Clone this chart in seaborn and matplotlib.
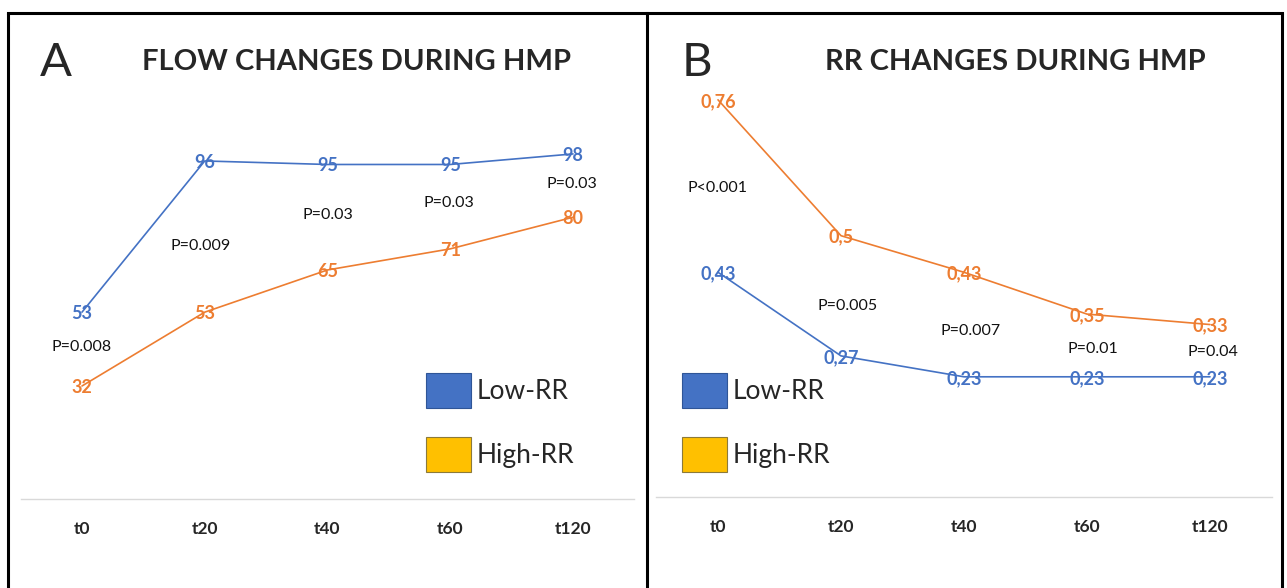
import matplotlib
matplotlib.use("Agg")
import matplotlib.pyplot as plt
import seaborn as sns
import pandas as pd
from matplotlib.patches import Patch
from matplotlib.lines import Line2D

# ---------------- data ----------------
times = ["t0", "t20", "t40", "t60", "t120"]
groups = ["Low-RR", "High-RR"]

flow_low = [53, 96, 95, 95, 98]
flow_high = [32, 53, 65, 71, 80]
flow_p = ["P=0.008", "P=0.009", "P=0.03", "P=0.03", "P=0.03"]

rr_low = [0.43, 0.27, 0.23, 0.23, 0.23]
rr_high = [0.76, 0.5, 0.43, 0.35, 0.33]
rr_p = ["P<0.001", "P=0.005", "P=0.007", "P=0.01", "P=0.04"]

panel_letters = ["A", "B"]
titles = ["FLOW CHANGES DURING HMP", "RR CHANGES DURING HMP"]

# ---------------- style ----------------
sns.set_style("white")
plt.rcParams["font.family"] = ["Lato", "DejaVu Sans"]

line_colors = {"Low-RR": "#4472C4", "High-RR": "#ED7D31"}
legend_colors = {"Low-RR": "#4472C4", "High-RR": "#FFC000"}
legend_edges = {"Low-RR": "#2F5597", "High-RR": "#8C7A3A"}

W, H = 1287, 588
fig = plt.figure(figsize=(W / 100, H / 100), dpi=100)


def fx(px):
    return px / W


def fy(py):
    return 1 - py / H


# axes placement (pixels): x0 of category 0, spacing, baseline y, px per unit
ax_specs = [
    dict(x0=82, dx=122.75, base=498.5, ppu=3.516, ylim=(0, 120)),
    dict(x0=718, dx=123.0, base=497.0, ppu=522.6, ylim=(0, 0.8)),
]

axes = []
for spec in ax_specs:
    left = spec["x0"] - 0.5 * spec["dx"]
    width = 5 * spec["dx"]
    height = (spec["ylim"][1] - spec["ylim"][0]) * spec["ppu"]
    ax = fig.add_axes([fx(left), fy(spec["base"]), fx(width), height / H])
    axes.append(ax)

# positions of the p-value annotations (category units, data units)
p_pos = [
    [(0.0, 43.4), (0.97, 72.2), (2.0, 81.0), (2.99, 84.4), (3.99, 89.8)],
    [(0.0, 0.594), (1.05, 0.369), (2.05, 0.320), (3.05, 0.287), (4.02, 0.281)],
]

datasets = [(flow_low, flow_high, flow_p), (rr_low, rr_high, rr_p)]

for k, (ax, spec, (low, high, pvals)) in enumerate(zip(axes, ax_specs, datasets)):
    df = pd.DataFrame({
        "time": times * 2,
        "value": list(low) + list(high),
        "group": ["Low-RR"] * len(times) + ["High-RR"] * len(times),
    })
    sns.lineplot(data=df, x="time", y="value", hue="group", hue_order=groups,
                 palette=line_colors, sort=False, legend=False, ax=ax,
                 linewidth=1.2)

    # data labels
    for grp, vals in (("Low-RR", low), ("High-RR", high)):
        for i, v in enumerate(vals):
            lab = str(v) if k == 0 else str(v).replace(".", ",")
            ax.text(i, v, lab, ha="center", va="center_baseline",
                    color=line_colors[grp], fontsize=13, fontweight="bold")

    # p-values
    for (px_, py_), txt in zip(p_pos[k], pvals):
        ax.text(px_, py_, txt, ha="center", va="center_baseline",
                color="#111111", fontsize=11.5)

    ax.set_xlim(-0.5, 4.5)
    ax.set_ylim(*spec["ylim"])
    ax.set_xlabel("")
    ax.set_ylabel("")
    ax.set_yticks([])
    ax.set_xticks(range(len(times)))
    ax.set_xticklabels(times, fontsize=12.5, fontweight="bold")
    ax.tick_params(axis="x", length=0, pad=16)
    for s in ("top", "left", "right"):
        ax.spines[s].set_visible(False)
    ax.spines["bottom"].set_color("#D9D9D9")
    ax.spines["bottom"].set_linewidth(1.0)
    ax.patch.set_alpha(0)

# legends
handles = [Patch(facecolor=legend_colors[g], edgecolor=legend_edges[g],
                 linewidth=0.8, label=g) for g in groups]
leg_anchor = [(426, 373), (682, 373)]
for ax, (lx, ly) in zip(axes, leg_anchor):
    ax.legend(handles=handles, loc="upper left",
              bbox_to_anchor=(fx(lx), fy(ly)), bbox_transform=fig.transFigure,
              frameon=False, fontsize=19, handlelength=1.70,
              handleheight=1.66, handletextpad=0.22, labelspacing=1.1,
              borderpad=0, borderaxespad=0)

# panel titles and letters
fig.text(fx(40), fy(59), panel_letters[0], fontsize=34, ha="left",
         va="center_baseline")
fig.text(fx(682), fy(59), panel_letters[1], fontsize=34, ha="left",
         va="center_baseline")
fig.text(fx(357), fy(60), titles[0], fontsize=21, fontweight="bold",
         ha="center", va="center_baseline")
fig.text(fx(1015), fy(60), titles[1], fontsize=21, fontweight="bold",
         ha="center", va="center_baseline")

# panel borders
lw = 2.2
for (x0, x1) in ((7.5, 646.5), (646.5, 1282)):
    fig.add_artist(Line2D([fx(x0), fx(x1)], [fy(13), fy(13)],
                          color="black", linewidth=lw, solid_capstyle="projecting"))
for xv in (7.5, 646.5, 1282):
    fig.add_artist(Line2D([fx(xv), fx(xv)], [fy(13), fy(600)],
                          color="black", linewidth=lw))

fig.savefig("out.png", dpi=100)
